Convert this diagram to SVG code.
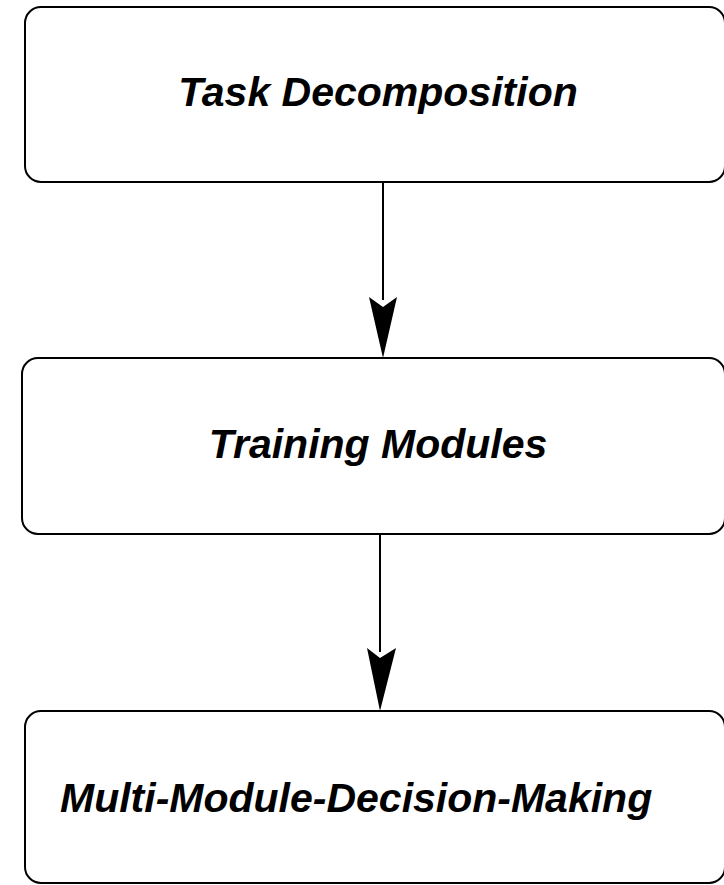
<svg xmlns="http://www.w3.org/2000/svg" width="724" height="885" viewBox="0 0 724 885">
<style>
.box{fill:#fff;stroke:#000;stroke-width:2}
.lbl{font-family:"Liberation Sans",Arial,sans-serif;font-weight:bold;font-style:italic;font-size:41px;fill:#000}
.conn{stroke:#000;stroke-width:2;fill:none}
.head{fill:#000}
</style>
<rect width="724" height="885" fill="#fff"/>
<g id="n1">
<rect class="box" x="25" y="7" width="700" height="175" rx="16"/>
<text class="lbl" x="378" y="106" text-anchor="middle">Task Decomposition</text>
</g>
<g id="n2">
<rect class="box" x="22" y="358" width="703" height="176" rx="16"/>
<text class="lbl" x="378" y="458" text-anchor="middle">Training Modules</text>
</g>
<g id="n3">
<rect class="box" x="25" y="711" width="700" height="172" rx="16"/>
<text class="lbl" x="60" y="812">Multi-Module-Decision-Making</text>
</g>
<g id="connectors">
<path class="conn" d="M383,182 L383,300"/>
<path class="head" d="M369,297 L383,307 L397,297 L383,358 Z"/>
<path class="conn" d="M380,534 L380,652"/>
<path class="head" d="M367,648 L380,658 L396,648 L380,711 Z"/>
</g>
</svg>
